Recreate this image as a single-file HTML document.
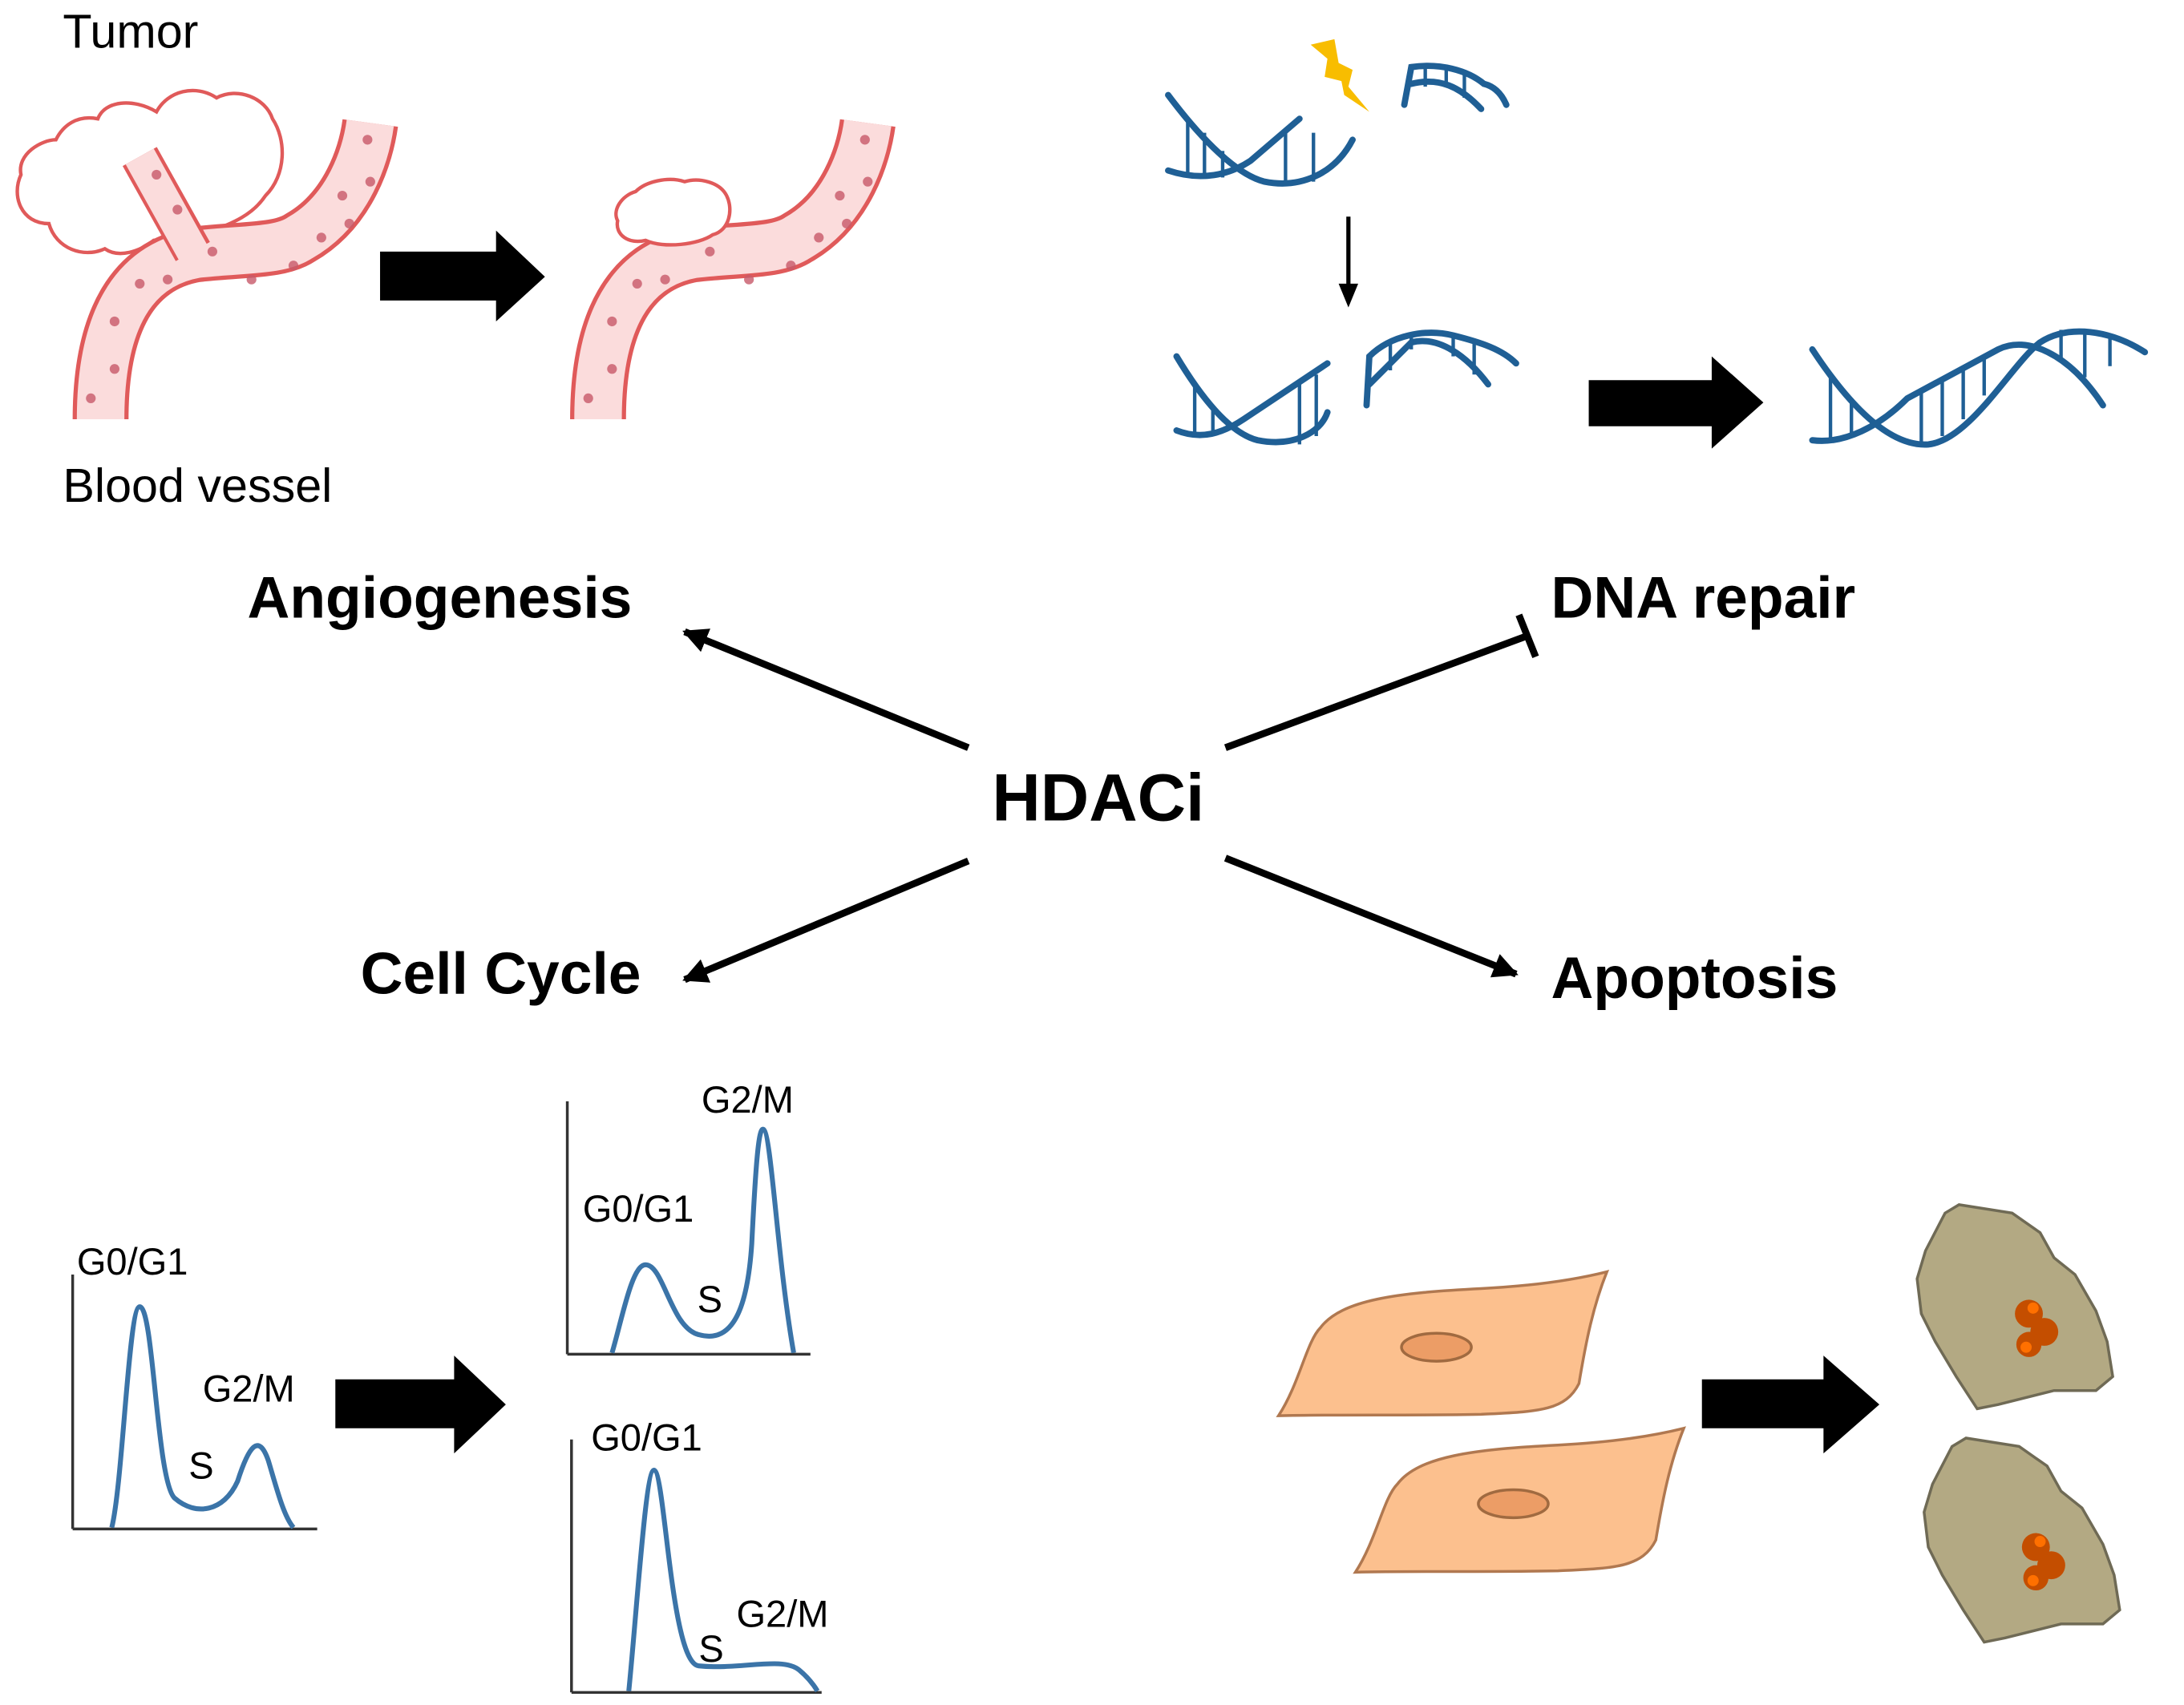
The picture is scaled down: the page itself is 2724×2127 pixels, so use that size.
<!DOCTYPE html>
<html><head><meta charset="utf-8"><style>
html,body{margin:0;padding:0;background:#fff;}
svg{display:block;}
text{font-family:"Liberation Sans",sans-serif;}
.b{font-weight:bold;font-size:42px;fill:#000;}
.l{font-size:27px;fill:#000;}
.dna{fill:none;stroke:#1f5f95;stroke-width:4.5;stroke-linecap:round;}
.rung{stroke:#1f5f95;stroke-width:2.5;}
.cv{fill:none;stroke:#3b74a8;stroke-width:3.5;}
.ax{stroke:#333;stroke-width:2;}
</style></head><body>
<svg width="2724" height="2127" viewBox="0 0 1563 1220" preserveAspectRatio="none" xmlns="http://www.w3.org/2000/svg">
<defs>
<marker id="a2" viewBox="0 0 10 10" refX="9" refY="5" markerWidth="18" markerHeight="18" orient="auto" markerUnits="userSpaceOnUse"><path d="M0,0 L10,5 L0,10 Z" fill="#000"/></marker>
</defs>

<text x="45" y="34" class="l" style="font-size:34px">Tumor</text>
<text x="45" y="359" class="l" style="font-size:34px">Blood vessel</text>
<text x="177" y="442" class="b">Angiogenesis</text>
<text x="1110" y="442" class="b">DNA repair</text>
<text x="710" y="587" class="b" style="font-size:48px">HDACi</text>
<text x="258" y="711" class="b">Cell Cycle</text>
<text x="1110" y="714" class="b">Apoptosis</text>

<g stroke="#000" stroke-width="5">
<line x1="693" y1="535" x2="490" y2="452" marker-end="url(#a2)"/>
<line x1="877" y1="535" x2="1093" y2="455"/>
<line x1="1087" y1="440" x2="1099" y2="470"/>
<line x1="693" y1="616" x2="490" y2="701" marker-end="url(#a2)"/>
<line x1="877" y1="614" x2="1085" y2="697" marker-end="url(#a2)"/>
</g>

<g fill="#000">
<path d="M272,180 H355 V165 L390,198 L355,230 V215 H272 Z"/>
<path d="M1137,272 H1225 V255 L1262,288 L1225,321 V305 H1137 Z"/>
<path d="M240,987 H325 V970 L362,1005 L325,1040 V1022 H240 Z"/>
<path d="M1218,987 H1305 V970 L1345,1005 L1305,1040 V1022 H1218 Z"/>
</g>
<line x1="965" y1="155" x2="965" y2="205" stroke="#000" stroke-width="3"/>
<path d="M958,203 L972,203 L965,220 Z" fill="#000"/>

<path d="M40,100 C30,100 12,110 15,125 C8,140 15,160 35,160 C40,178 60,185 75,178 C85,185 100,180 110,172 L145,168 C165,160 180,155 190,140 C205,125 205,100 195,85 C190,70 170,62 155,70 C140,60 120,65 112,80 C95,70 75,72 70,85 C55,82 45,90 40,100 Z" fill="#fff" stroke="#e05a5a" stroke-width="2.5"/>
<g id="v1">
<path d="M72,300 C72,230 95,190 140,182 C175,178 200,180 215,170 C250,150 262,110 265,88" fill="none" stroke="#e05a5a" stroke-width="40"/>
<path d="M72,300 C72,230 95,190 140,182 C175,178 200,180 215,170 C250,150 262,110 265,88" fill="none" stroke="#fbdcdc" stroke-width="34"/>
</g>
<path d="M100,112 L138,180" stroke="#e05a5a" stroke-width="28" fill="none"/>
<path d="M100,112 L140,184" stroke="#fbdcdc" stroke-width="23" fill="none"/>
<use href="#v1" x="356"/>
<path d="M455,137 C445,140 438,150 442,158 C440,168 450,175 462,172 C475,178 500,175 510,168 C522,165 525,150 520,140 C515,130 500,127 490,130 C478,126 462,130 455,137 Z" fill="#fff" stroke="#e05a5a" stroke-width="2.5"/>
<g fill="#c85a6a" opacity="0.8">
<circle cx="65" cy="285" r="3.5"/><circle cx="82" cy="264" r="3.5"/><circle cx="82" cy="230" r="3.5"/><circle cx="100" cy="203" r="3.5"/><circle cx="120" cy="200" r="3.5"/><circle cx="152" cy="180" r="3.5"/><circle cx="180" cy="200" r="3.5"/><circle cx="210" cy="190" r="3.5"/><circle cx="230" cy="170" r="3.5"/><circle cx="250" cy="160" r="3.5"/><circle cx="245" cy="140" r="3.5"/><circle cx="265" cy="130" r="3.5"/><circle cx="263" cy="100" r="3.5"/><circle cx="127" cy="150" r="3.5"/><circle cx="112" cy="125" r="3.5"/>
<circle cx="421" cy="285" r="3.5"/><circle cx="438" cy="264" r="3.5"/><circle cx="438" cy="230" r="3.5"/><circle cx="456" cy="203" r="3.5"/><circle cx="476" cy="200" r="3.5"/><circle cx="508" cy="180" r="3.5"/><circle cx="536" cy="200" r="3.5"/><circle cx="566" cy="190" r="3.5"/><circle cx="586" cy="170" r="3.5"/><circle cx="606" cy="160" r="3.5"/><circle cx="601" cy="140" r="3.5"/><circle cx="621" cy="130" r="3.5"/><circle cx="619" cy="100" r="3.5"/>
</g>

<path d="M938,32 L955,28 L958,45 L968,50 L965,62 L980,80 L962,68 L960,58 L948,55 L950,42 Z" fill="#f8bd00"/>

<g class="dna">
<path d="M836,68 C860,100 885,125 905,130 C930,135 955,125 968,100"/>
<path d="M836,122 C860,130 880,125 895,115 L930,85"/>
<path d="M1005,75 L1010,48 C1030,45 1050,50 1062,60 C1070,62 1075,68 1078,75"/>
<path d="M1010,60 C1030,55 1045,62 1060,78"/>
<path d="M842,255 C860,285 880,310 900,315 C925,320 945,310 950,295"/>
<path d="M842,308 C860,315 875,310 890,300 L950,260"/>
<path d="M978,290 L980,255 C995,240 1020,235 1040,240 C1060,245 1075,250 1085,260"/>
<path d="M980,275 L1010,245 C1030,240 1050,255 1065,275"/>
<path d="M1297,250 C1320,285 1350,320 1380,318 C1410,315 1440,260 1460,245 C1480,232 1510,236 1535,252"/>
<path d="M1297,315 C1320,318 1345,305 1365,285 L1430,250 C1450,240 1480,252 1505,290"/>
</g>
<g class="rung">
<line x1="850" y1="85" x2="850" y2="125"/><line x1="862" y1="95" x2="862" y2="128"/><line x1="875" y1="108" x2="875" y2="127"/><line x1="920" y1="95" x2="920" y2="132"/><line x1="940" y1="95" x2="940" y2="130"/>
<line x1="1020" y1="48" x2="1020" y2="62"/><line x1="1035" y1="47" x2="1035" y2="60"/><line x1="1048" y1="50" x2="1048" y2="70"/>
<line x1="855" y1="275" x2="855" y2="310"/><line x1="868" y1="290" x2="868" y2="312"/><line x1="930" y1="275" x2="930" y2="318"/><line x1="942" y1="268" x2="942" y2="312"/>
<line x1="995" y1="245" x2="995" y2="265"/><line x1="1010" y1="240" x2="1010" y2="250"/><line x1="1040" y1="240" x2="1040" y2="255"/><line x1="1055" y1="245" x2="1055" y2="268"/>
<line x1="1310" y1="268" x2="1310" y2="315"/><line x1="1325" y1="285" x2="1325" y2="312"/><line x1="1375" y1="280" x2="1375" y2="318"/><line x1="1390" y1="270" x2="1390" y2="312"/><line x1="1405" y1="262" x2="1405" y2="300"/><line x1="1420" y1="255" x2="1420" y2="283"/><line x1="1475" y1="236" x2="1475" y2="258"/><line x1="1492" y1="238" x2="1492" y2="270"/><line x1="1510" y1="240" x2="1510" y2="262"/>
</g>

<g class="ax">
<line x1="52" y1="912" x2="52" y2="1094"/><line x1="52" y1="1094" x2="227" y2="1094"/>
<line x1="406" y1="788" x2="406" y2="969"/><line x1="406" y1="969" x2="580" y2="969"/>
<line x1="409" y1="1030" x2="409" y2="1211"/><line x1="409" y1="1211" x2="588" y2="1211"/>
</g>
<path class="cv" d="M80,1093 C88,1060 92,935 100,935 C110,935 112,1060 125,1072 C140,1085 160,1082 170,1060 C178,1035 185,1025 192,1045 C198,1065 203,1085 210,1093"/>
<path class="cv" d="M438,968 C445,945 452,905 462,905 C475,905 480,950 500,955 C525,962 535,935 538,890 C541,830 543,808 546,808 C552,808 556,900 568,968"/>
<path class="cv" d="M450,1210 C456,1150 462,1052 468,1052 C476,1052 480,1190 500,1192 C530,1195 560,1185 572,1195 C578,1200 582,1205 585,1210"/>
<text x="55" y="912" class="l">G0/G1</text>
<text x="135" y="1058" class="l">S</text>
<text x="145" y="1003" class="l">G2/M</text>
<text x="502" y="796" class="l">G2/M</text>
<text x="417" y="874" class="l">G0/G1</text>
<text x="499" y="939" class="l">S</text>
<text x="423" y="1038" class="l">G0/G1</text>
<text x="500" y="1189" class="l">S</text>
<text x="527" y="1164" class="l">G2/M</text>

<g id="cell">
<path d="M915,1013 C930,990 935,960 945,950 C960,930 1000,925 1060,922 C1100,920 1130,915 1150,910 C1140,935 1135,960 1130,990 C1120,1010 1100,1010 1060,1012 C1010,1013 960,1012 915,1013 Z" fill="#fcc08e" stroke="#b07850" stroke-width="2"/>
<ellipse cx="1028" cy="964" rx="25" ry="10" fill="#ec9d66" stroke="#a06a40" stroke-width="2"/>
</g>
<use href="#cell" x="55" y="112"/>
<g id="apo">
<path d="M1392,868 L1402,862 L1440,868 L1460,882 L1470,900 L1485,912 L1500,938 L1508,960 L1512,985 L1500,995 L1470,995 L1430,1005 L1415,1008 L1400,985 L1385,960 L1375,940 L1372,915 L1378,895 Z" fill="#b3a983" stroke="#6f6a55" stroke-width="2"/>
<circle cx="1452" cy="940" r="10" fill="#c44e00"/><circle cx="1463" cy="953" r="10" fill="#c44e00"/><circle cx="1452" cy="962" r="9" fill="#c44e00"/>
<circle cx="1455" cy="936" r="4" fill="#ff7000"/><circle cx="1450" cy="964" r="4" fill="#ff7000"/>
</g>
<use href="#apo" x="5" y="167"/>
</svg>
</body></html>
